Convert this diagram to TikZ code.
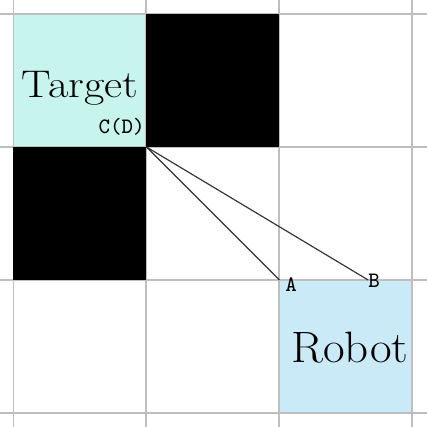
\documentclass[tikz,border=0pt]{standalone}
\usepackage{graphicx}
\usetikzlibrary{positioning}
\definecolor{targetcyan}{RGB}{199,245,238}
\definecolor{robotblue}{RGB}{203,234,247}
\definecolor{gridgray}{RGB}{190,190,190}

\begin{document}
\begin{tikzpicture}[x=2cm, y=2cm,
  cell/.style = {minimum size=2cm, inner sep=0pt, outer sep=0pt, anchor=south west},
  wall/.style = {cell, fill=black},
  tag/.style = {font=\ttfamily\fontsize{9.4}{10}\selectfont, inner sep=0pt},
  ray/.style = {draw=black!80, line width=0.5pt}]
  \useasboundingbox (-0.1015,-0.1055) rectangle (3.109,3.1055);
  % free cells
  \node[cell, fill=targetcyan] (target) at (0,2) {};
  \node[cell, fill=robotblue] (robot) at (2,0) {};
  \draw[gridgray, line width=0.85pt, step=2cm] (-0.1015,-0.1055) grid (3.109,3.1055);
  % walls
  \node[wall] (wallA) at (1,2) {};
  \node[wall] (wallB) at (0,1) {};
  % corner points
  \coordinate (C) at (1,2);
  \coordinate (A) at (2,1);
  \coordinate (B) at (2.667,1);
  \draw[ray] (C) -- (A);
  \draw[ray] (C) -- (B);
  % labels
  \node[anchor=base, inner sep=0pt, font=\fontsize{16.5}{20}\selectfont] (targetlabel) at (0.5,2.376) {\scalebox{1.15}[1]{Target}};
  \node[anchor=base, inner sep=0pt, font=\fontsize{18.8}{22}\selectfont] (robotlabel) at (2.53,0.383) {\scalebox{1.07}[1]{Robot}};
  \node[tag, anchor=base east] (labelC) at (0.99,2.105) {C(D)};
  \node[tag, anchor=base west] (labelA) at (2.041,0.91) {A};
  \node[tag, anchor=base west] (labelB) at (2.665,0.94) {B};
\end{tikzpicture}
\end{document}
